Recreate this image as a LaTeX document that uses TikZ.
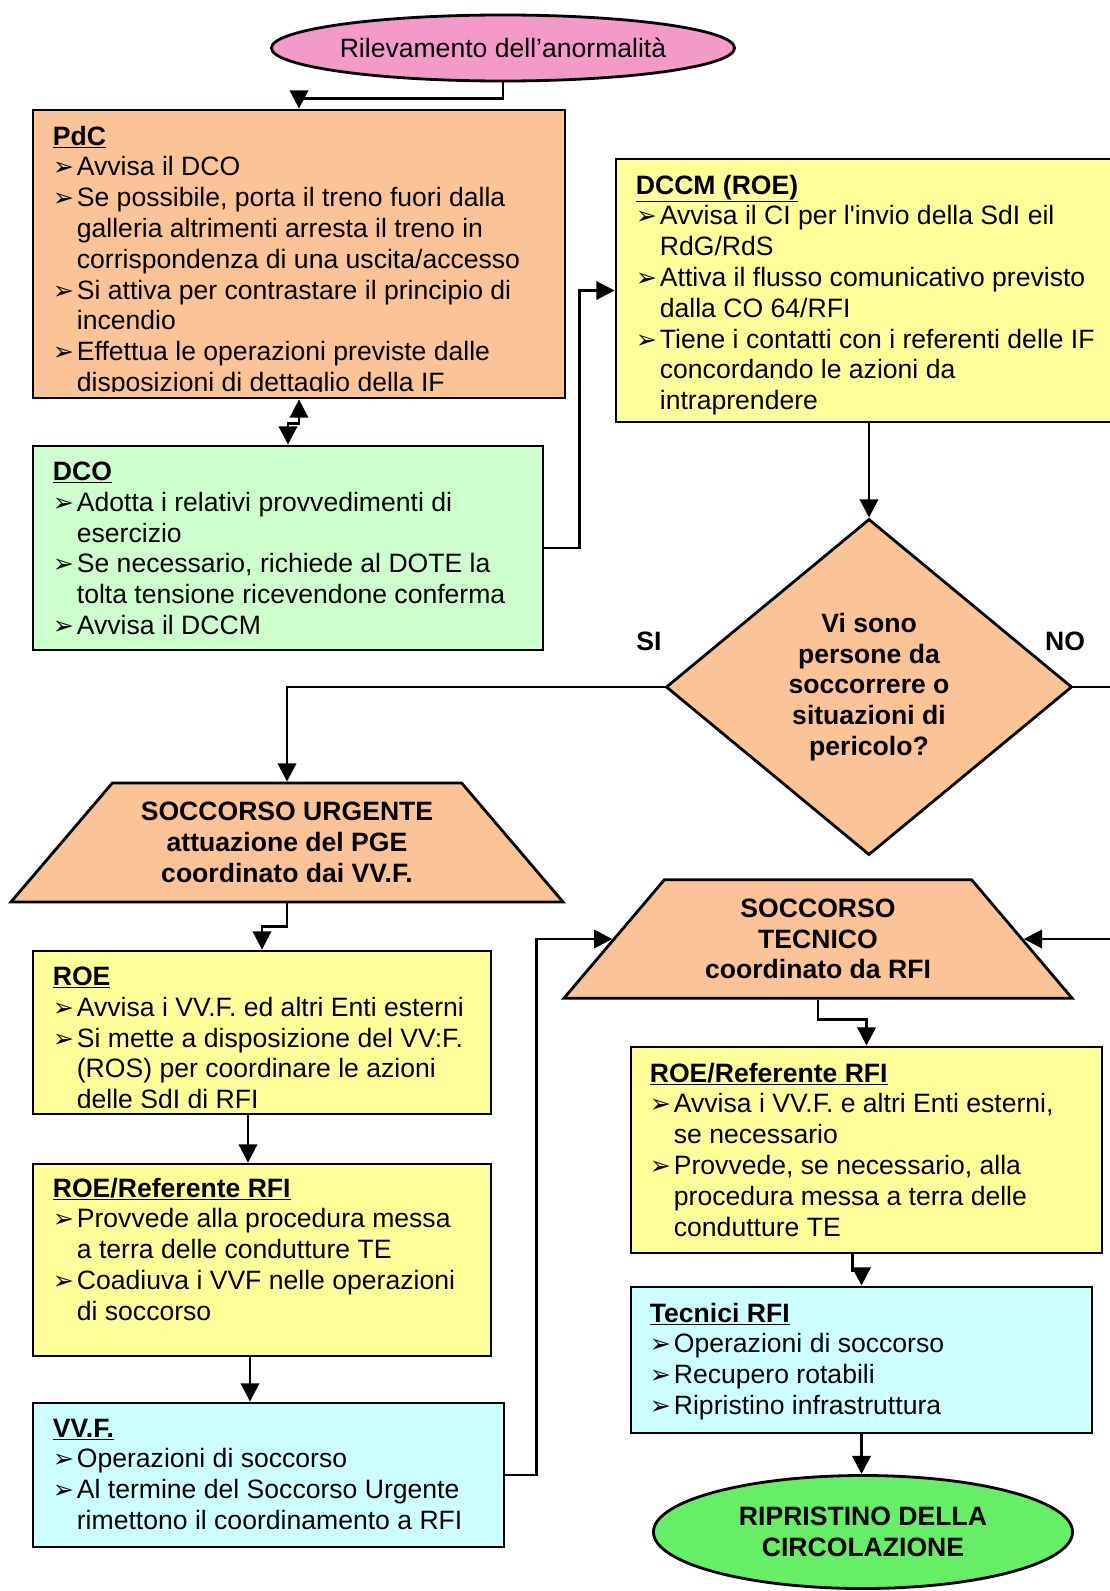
\documentclass[tikz,border=0pt]{standalone}
\usepackage{fontspec}
\setmainfont{Liberation Sans}
\newfontfamily\symfont{DejaVu Sans}
\usepackage{tikz}
\usetikzlibrary{shapes.geometric,arrows.meta,positioning,fit,calc}
\definecolor{rosa}{RGB}{244,154,201}
\definecolor{pesca}{RGB}{250,196,150}
\definecolor{verdino}{RGB}{204,255,204}
\definecolor{giallo}{RGB}{255,255,153}
\definecolor{azzurro}{RGB}{204,255,255}
\definecolor{verde}{RGB}{102,238,102}
\newcommand{\bul}{\makebox[0.6cm][l]{\symfont\fontsize{18}{18}\selectfont ➢}}
\newcommand{\ind}{\hspace*{0.6cm}}
\newcommand{\titolo}[1]{\underline{\textbf{#1}}}
\tikzstyle{box}=[draw, line width=2pt, inner sep=0pt]
\tikzstyle{testo}=[anchor=north west, align=left, inner sep=0pt, font=\fontsize{18.9}{21.9}\selectfont]
\tikzstyle{grassetto}=[align=center, inner sep=0pt, font=\fontsize{18.9}{21.9}\selectfont\bfseries]
\tikzstyle{trapezio}=[trapezium, trapezium stretches body, draw, line width=2pt, fill=pesca, grassetto, inner ysep=13.5pt]
\tikzstyle{freccia}=[line width=2pt, -{Triangle[length=13pt,width=13pt]}]

\begin{document}
\begin{tikzpicture}[x=0.025cm, y=-0.025cm]

\useasboundingbox (0,0) rectangle (1110,1591);
\clip (0,0) rectangle (1110,1591);

% inizio
\node[ellipse, draw, line width=2pt, fill=rosa, minimum width=11.575cm, minimum height=1.65cm, inner sep=0pt, font=\fontsize{18.9}{21.9}\selectfont] (ril) at (503,48) {Rilevamento dell’anormalità};

% PdC
\node[box, fill=pesca, fit={(33,110) (565,398)}] (pdc) {};
\begin{scope}
\clip (33,110) rectangle (565,391);
\node[testo] (pdctxt) at ([shift={(21,17)}]pdc.north west) {\titolo{PdC}\\
\bul Avvisa il DCO\\
\bul Se possibile, porta il treno fuori dalla\\
\ind galleria altrimenti arresta il treno in\\
\ind corrispondenza di una uscita/accesso\\
\bul Si attiva per contrastare il principio di\\
\ind incendio\\
\bul Effettua le operazioni previste dalle\\
\ind disposizioni di dettaglio della IF};
\end{scope}

% DCO
\node[box, fill=verdino, fit={(33,446) (543,650)}] (dco) {};
\node[testo] (dcotxt) at ([shift={(21,17)}]dco.north west) {\titolo{DCO}\\
\bul Adotta i relativi provvedimenti di\\
\ind esercizio\\
\bul Se necessario, richiede al DOTE la\\
\ind tolta tensione ricevendone conferma\\
\bul Avvisa il DCCM};

% DCCM
\node[box, fill=giallo, fit={(616,159) (1122,422)}] (dccm) {};
\node[testo] (dccmtxt) at ([shift={(21,17)}]dccm.north west) {\titolo{DCCM (ROE)}\\
\bul Avvisa il CI per l\textquotesingle invio della SdI eil\\
\ind RdG/RdS\\
\bul Attiva il flusso comunicativo previsto\\
\ind dalla CO 64/RFI\\
\bul Tiene i contatti con i referenti delle IF\\
\ind concordando le azioni da\\
\ind intraprendere};

% decisione
\node[diamond, draw, line width=2pt, fill=pesca, minimum width=10.15cm, minimum height=8.4cm, grassetto] (dia) at (869,687) {Vi sono\\persone da\\soccorrere o\\situazioni di\\pericolo?};
\node[grassetto] (si) at (649,641) {SI};
\node[grassetto] (no) at (1065,641) {NO};

% soccorsi
\node[trapezio, trapezium left angle=49.4, trapezium right angle=49.4, minimum width=13.8cm, minimum height=2.975cm] (urg) at (287,842.5) {SOCCORSO URGENTE\\attuazione del PGE\\coordinato dai VV.F.};
\node[trapezio, trapezium left angle=49.7, trapezium right angle=49.7, minimum width=12.7cm, minimum height=2.95cm] (tec) at (818,939) {SOCCORSO\\TECNICO\\coordinato da RFI};

% ramo SI
\node[box, fill=giallo, fit={(33,951) (491,1114)}] (roe) {};
\begin{scope}
\clip (33,951) rectangle (491,1107);
\node[testo] (roetxt) at ([shift={(21,17)}]roe.north west) {\titolo{ROE}\\
\bul Avvisa i VV.F. ed altri Enti esterni\\
\bul Si mette a disposizione del VV:F.\\
\ind (ROS) per coordinare le azioni\\
\ind delle SdI di RFI};
\end{scope}

\node[box, fill=giallo, fit={(33,1164) (491,1356)}] (roel) {};
\node[testo] (roeltxt) at ([shift={(21,15)}]roel.north west) {\titolo{ROE/Referente RFI}\\
\bul Provvede alla procedura messa\\
\ind a terra delle condutture TE\\
\bul Coadiuva i VVF nelle operazioni\\
\ind di soccorso};

\node[box, fill=azzurro, fit={(33,1403) (504,1547)}] (vvf) {};
\node[testo] (vvftxt) at ([shift={(21,17)}]vvf.north west) {\titolo{VV.F.}\\
\bul Operazioni di soccorso\\
\bul Al termine del Soccorso Urgente\\
\ind rimettono il coordinamento a RFI};

% ramo NO
\node[box, fill=giallo, fit={(631,1047) (1102,1253)}] (roer) {};
\node[testo] (roertxt) at ([shift={(20,17)}]roer.north west) {\titolo{ROE/Referente RFI}\\
\bul Avvisa i VV.F. e altri Enti esterni,\\
\ind se necessario\\
\bul Provvede, se necessario, alla\\
\ind procedura messa a terra delle\\
\ind condutture TE};

\node[box, fill=azzurro, fit={(631,1287) (1092,1433)}] (rfi) {};
\node[testo] (rfitxt) at ([shift={(20,17)}]rfi.north west) {\titolo{Tecnici RFI}\\
\bul Operazioni di soccorso\\
\bul Recupero rotabili\\
\bul Ripristino infrastruttura};

% fine
\node[ellipse, draw, line width=2pt, fill=verde, minimum width=10.475cm, minimum height=2.825cm, grassetto] (fin) at (863,1532) {RIPRISTINO DELLA\\CIRCOLAZIONE};

% frecce
\draw[freccia] (ril.south) -- ++(0,16) -| (pdc.north);
\draw[freccia, {Triangle[length=13pt,width=13pt]}-{Triangle[length=13pt,width=13pt]}] (pdc.south) -- ++(0,24) -| (dco.north);
\draw[freccia] (dco.east) -- ++(35,0) |- (dccm.west);
\draw[freccia] (dccm.south) -- (dia.north);
\draw[freccia] (dia.west) -| (urg.north);
\draw[freccia] (dia.east) -- ++(70,0) |- (tec.east);
\draw[freccia] (urg.south) -- ++(0,23) -| (roe.north);
\draw[freccia] ([shift={(-14,0)}]roe.south) -- ([shift={(-14,0)}]roe.south |- roel.north);
\draw[freccia] ([shift={(-12,0)}]roel.south) -- ([shift={(-12,0)}]roel.south |- vvf.north);
\draw[freccia] (vvf.east) -- ++(31,0) |- (tec.west);
\draw[freccia] (tec.south) -- ++(0,20) -| (roer.north);
\draw[freccia] ([shift={(-14,0)}]roer.south) -- ++(0,16) -| (rfi.north);
\draw[freccia] (rfi.south) -- (rfi.south |- fin.north);

\end{tikzpicture}
\end{document}
